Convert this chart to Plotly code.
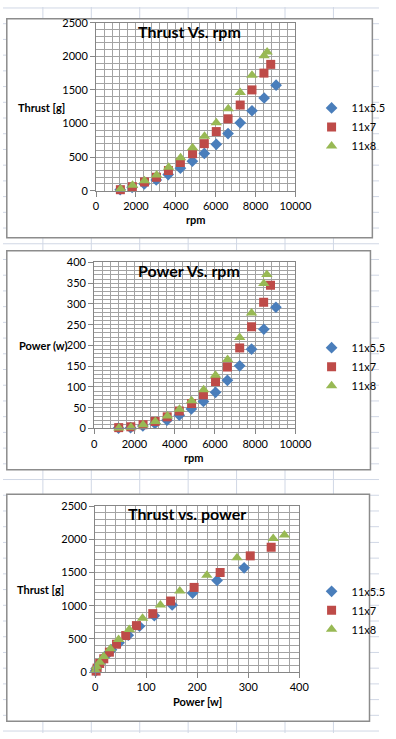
import plotly.graph_objects as go

W, H = 396, 739

series_names = ["11x5.5", "11x7", "11x8"]

rpm_55 = [1210, 1810, 2420, 3020, 3620, 4230, 4830, 5430, 6030, 6620, 7230, 7820, 8430, 9030]
rpm_7 = [1220, 1820, 2430, 3030, 3630, 4230, 4840, 5430, 6030, 6620, 7230, 7820, 8420, 8760]
rpm_8 = [1230, 1830, 2430, 3040, 3640, 4240, 4840, 5440, 6030, 6630, 7230, 7820, 8430, 8580]

thrust_55 = [15, 50, 100, 160, 240, 335, 440, 555, 690, 850, 1010, 1190, 1380, 1570]
thrust_7 = [15, 60, 130, 200, 300, 420, 550, 700, 880, 1070, 1275, 1500, 1750, 1880]
thrust_8 = [25, 80, 150, 235, 350, 490, 640, 810, 1010, 1220, 1460, 1720, 2010, 2065]

power_55 = [1, 2, 6, 12, 20, 32, 47, 65, 87, 116, 151, 191, 239, 292]
power_7 = [2, 4, 9, 17, 28, 42, 60, 81, 113, 148, 194, 245, 304, 345]
power_8 = [1, 3, 9, 17, 30, 46, 67, 93, 128, 166, 219, 278, 349, 371]

colors = ["#4A7EBB", "#BE4B48", "#98B954"]
symbols = ["diamond", "square", "triangle-up"]
sizes = [9, 9, 10]

FONT = "Lato"


def fx(x):
    return x / W


def fy(y):
    return 1 - y / H


fig = go.Figure()

rpms = [rpm_55, rpm_7, rpm_8]
thrusts = [thrust_55, thrust_7, thrust_8]
powers = [power_55, power_7, power_8]

charts = [
    (rpms, thrusts, "x", "y", "legend"),
    (rpms, powers, "x2", "y2", "legend2"),
    (powers, thrusts, "x3", "y3", "legend3"),
]
for xs, ys, xa, ya, lg in charts:
    for i in range(3):
        fig.add_trace(go.Scatter(
            x=xs[i], y=ys[i], mode="markers", name=series_names[i],
            xaxis=xa, yaxis=ya, legend=lg, cliponaxis=False,
            marker=dict(symbol=symbols[i], size=sizes[i], color=colors[i],
                        line=dict(width=0)),
        ))

# plot areas in pixels: (left, right, top, bottom)
areas = [(98, 308, 16, 187), (96, 308, 260, 429), (97, 312, 508, 677)]
grid = "#a3a3a3"


def axis_common():
    return dict(showline=True, linecolor="#868686", linewidth=1, mirror=True,
                showgrid=True, gridcolor=grid, gridwidth=1, zeroline=False,
                ticks="outside", ticklen=5, tickcolor="#868686", tickformat="d",
                tickfont=dict(family=FONT, size=11, color="#000000"),
                fixedrange=True)


layout_axes = {}
xcfg = [(0, 10000, 2000, 400), (0, 10000, 2000, 400), (0, 400, 100, 20)]
ycfg = [(0, 2500, 500, 100), (0, 400, 50, 10), (0, 2500, 500, 100)]
for k, (l, r, t, b) in enumerate(areas):
    sx = "" if k == 0 else str(k + 1)
    xa = axis_common()
    xa.update(domain=[fx(l), fx(r)], range=[xcfg[k][0], xcfg[k][1]],
              tick0=0, dtick=xcfg[k][2], anchor="y" + sx,
              minor=dict(dtick=xcfg[k][3], showgrid=True, gridcolor=grid, gridwidth=1))
    ya = axis_common()
    ya.update(domain=[fy(b), fy(t)], range=[ycfg[k][0], ycfg[k][1]],
              tick0=0, dtick=ycfg[k][2], anchor="x" + sx,
              minor=dict(dtick=ycfg[k][3], showgrid=True, gridcolor=grid, gridwidth=1))
    layout_axes["xaxis" + sx] = xa
    layout_axes["yaxis" + sx] = ya

shapes = []
sheet_col = "#D0D7E5"
for cx in [42, 93, 144, 195, 246, 297, 348]:
    shapes.append(dict(type="line", xref="paper", yref="paper", layer="below",
                       x0=fx(cx), x1=fx(cx), y0=0, y1=1,
                       line=dict(color=sheet_col, width=1)))
for ry in range(1, H, 16):
    shapes.append(dict(type="line", xref="paper", yref="paper", layer="below",
                       x0=0, x1=1, y0=fy(ry), y1=fy(ry),
                       line=dict(color=sheet_col, width=1)))
for (l, r, t, b) in [(4, 389, 12, 235), (4, 387, 248, 471), (4, 386, 496, 727)]:
    shapes.append(dict(type="rect", xref="paper", yref="paper", layer="below",
                       x0=fx(l), x1=fx(r), y0=fy(b), y1=fy(t),
                       fillcolor="#ffffff", line=dict(color="#8c8c8c", width=1.5)))

annotations = []


def text(x, y, s, size, bold=False):
    annotations.append(dict(x=fx(x), y=fy(y), xref="paper", yref="paper",
                            text=("<b>%s</b>" % s) if bold else s, showarrow=False,
                            xanchor="center", yanchor="middle",
                            font=dict(family=FONT, size=size, color="#000000")))


text(196, 25, "Thrust Vs. rpm", 16, True)
text(196, 268, "Power Vs. rpm", 16, True)
text(194, 516, "Thrust vs. power", 16, True)
text(41, 102, "Thrust [g]", 11, True)
text(42, 345, "Power (w)", 11, True)
text(39, 593, "Thrust [g]", 11, True)
text(203, 216, "rpm", 11, True)
text(201, 459, "rpm", 11, True)
text(205, 707, "Power [w]", 11, True)

legend_style = dict(font=dict(family=FONT, size=11, color="#000000"),
                    bgcolor="rgba(0,0,0,0)", xanchor="left", yanchor="top",
                    itemwidth=30, tracegroupgap=0)
legends = {}
for name, top in [("legend", 88), ("legend2", 332), ("legend3", 580)]:
    d = dict(legend_style)
    d.update(x=fx(325), y=fy(top))
    legends[name] = d

fig.update_layout(
    width=W, height=H, margin=dict(l=0, r=0, t=0, b=0),
    paper_bgcolor="#ffffff", plot_bgcolor="#ffffff",
    shapes=shapes, annotations=annotations, showlegend=True,
    **layout_axes, **legends,
)

fig.write_html("out.html", config={"displayModeBar": False})

with open("out.html", "r", encoding="utf-8") as f:
    html = f.read()
html = html.replace("<head>", "<head><style>html,body{margin:0;padding:0;overflow:hidden;}</style>", 1)
with open("out.html", "w", encoding="utf-8") as f:
    f.write(html)
